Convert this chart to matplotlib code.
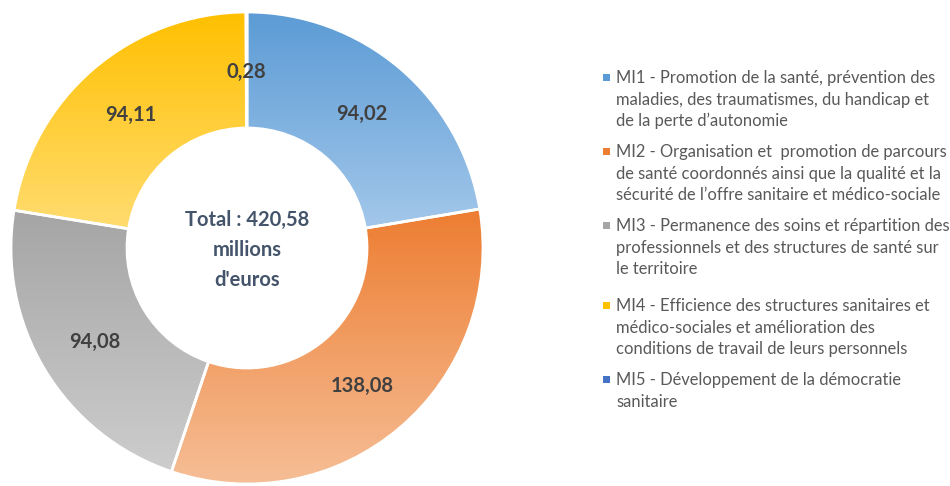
import numpy as np
import matplotlib
matplotlib.use("Agg")
import matplotlib.pyplot as plt
from matplotlib.patches import Wedge, Rectangle
from matplotlib.colors import LinearSegmentedColormap

# ---- data ----
categories = ["MI1", "MI2", "MI3", "MI4", "MI5"]
values = [94.02, 138.08, 94.08, 94.11, 0.28]
value_labels = ["94,02", "138,08", "94,08", "94,11", "0,28"]
total_label = "Total : 420,58\nmillions\nd'euros"
legend_labels = [
    "MI1 - Promotion de la santé, prévention des\nmaladies, des traumatismes, du handicap et\nde la perte d’autonomie",
    "MI2 - Organisation et  promotion de parcours\nde santé coordonnés ainsi que la qualité et la\nsécurité de l’offre sanitaire et médico-sociale",
    "MI3 - Permanence des soins et répartition des\nprofessionnels et des structures de santé sur\nle territoire",
    "MI4 - Efficience des structures sanitaires et\nmédico-sociales et amélioration des\nconditions de travail de leurs personnels",
    "MI5 - Développement de la démocratie\nsanitaire",
]
top_colors = ["#5B9BD5", "#ED7D31", "#A5A5A5", "#FFC000", "#4472C4"]
bottom_colors = ["#A3C7EA", "#F6BE96", "#CDCDCD", "#FFDC70", "#4472C4"]

W, H = 950, 486
fig = plt.figure(figsize=(W / 100, H / 100), dpi=100)
ax = fig.add_axes([0, 0, 1, 1])

cx, cy = 247, H - 248
R = 236
ring = 116

wedges, _ = ax.pie(values, center=(cx, cy), radius=R, startangle=90,
                   counterclock=False,
                   wedgeprops=dict(width=ring, linewidth=0),
                   colors=top_colors)

for w, ct, cb in zip(wedges, top_colors, bottom_colors):
    ext = w.get_path().get_extents()
    cmap = LinearSegmentedColormap.from_list("g", [ct, cb])
    grad = np.linspace(0, 1, 256).reshape(-1, 1)
    im = ax.imshow(grad, cmap=cmap, aspect="auto", origin="upper",
                   extent=(ext.x0, ext.x1, ext.y0, ext.y1), zorder=2,
                   interpolation="bilinear")
    im.set_clip_path(w)
    outline = Wedge(w.center, w.r, w.theta1, w.theta2, width=w.width,
                    facecolor="none", edgecolor="white", linewidth=2, zorder=3)
    ax.add_patch(outline)

for w, lab in zip(wedges, value_labels):
    mid = np.deg2rad((w.theta1 + w.theta2) / 2)
    rr = R * 0.755
    ax.text(cx + rr * np.cos(mid), cy + rr * np.sin(mid), lab,
            ha="center", va="center_baseline", fontsize=14.5,
            fontweight="bold", color="#404040", family="Lato", zorder=4)

ax.text(cx, cy - 2, total_label, ha="center", va="center", fontsize=14.5,
        fontweight="bold", color="#44546A", family="Lato",
        linespacing=1.6, zorder=4)

ax.set_xlim(0, W)
ax.set_ylim(0, H)
ax.set_aspect("equal")
ax.axis("off")

# legend
entry_y = [78, 152, 226, 306, 380]
line_h = 21.6
for lab, col, y in zip(legend_labels, top_colors, entry_y):
    ax.add_patch(Rectangle((603, H - y - 3.5), 7, 7, facecolor=col,
                           edgecolor="none", zorder=4))
    for i, line in enumerate(lab.split("\n")):
        ax.text(616, H - y - i * line_h, line, ha="left", va="center",
                fontsize=11.9, color="#595959", family="Lato", zorder=4)

fig.savefig("out.png", dpi=100)
